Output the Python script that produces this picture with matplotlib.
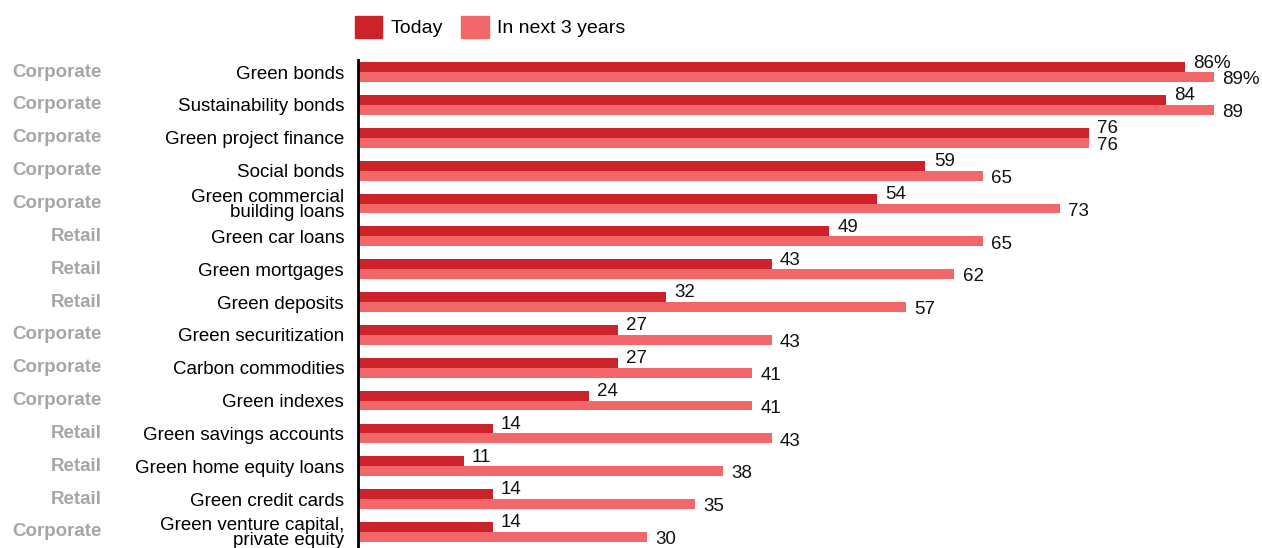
import matplotlib.pyplot as plt
from matplotlib.patches import Patch

plt.rcParams['font.family'] = ['Liberation Sans', 'DejaVu Sans']

### DATA

products = ['Green bonds', 'Sustainability bonds', 'Green project finance', 'Social bonds',
            'Green commercial\nbuilding loans', 'Green car loans', 'Green mortgages',
            'Green deposits', 'Green securitization', 'Carbon commodities', 'Green indexes',
            'Green savings accounts', 'Green home equity loans', 'Green credit cards',
            'Green venture capital,\nprivate equity']
segments = ['Corporate', 'Corporate', 'Corporate', 'Corporate', 'Corporate', 'Retail',
            'Retail', 'Retail', 'Corporate', 'Corporate', 'Corporate', 'Retail', 'Retail',
            'Retail', 'Corporate']
today = [86, 84, 76, 59, 54, 49, 43, 32, 27, 27, 24, 14, 11, 14, 14]
next3 = [89, 89, 76, 65, 73, 65, 62, 57, 43, 41, 41, 43, 38, 35, 30]

c_today = '#cc2229'
c_next = '#f2686a'

### PLOT

fig = plt.figure(figsize=(12.62, 5.48), dpi=100)
ax = fig.add_axes([358 / 1262, 0, 1 - 358 / 1262, 1 - 60 / 548])

h = 0.3
ys = list(range(len(products)))
ax.barh([y - h / 2 for y in ys], today, height=h, color=c_today)
ax.barh([y + h / 2 for y in ys], next3, height=h, color=c_next)

fs = 13.5
for i, (a, b) in enumerate(zip(today, next3)):
    sa = f'{a}%' if i == 0 else str(a)
    sb = f'{b}%' if i == 0 else str(b)
    ax.annotate(sa, (a, i - h / 2), xytext=(6, 3), textcoords='offset points',
                va='center', ha='left', fontsize=fs, color='#111111')
    ax.annotate(sb, (b, i + h / 2), xytext=(6, -2), textcoords='offset points',
                va='center', ha='left', fontsize=fs, color='#111111')

ax.set_xlim(0, 94)
ax.set_ylim(14.49, -0.37)

ax.set_yticks(ys)
ax.set_yticklabels(products, fontsize=fs, linespacing=0.85)
ax.tick_params(axis='y', length=0, pad=10)
ax.set_xticks([])

for s in ['top', 'right', 'bottom']:
    ax.spines[s].set_visible(False)
ax.spines['left'].set_linewidth(2)
ax.spines['left'].set_color('black')

# segment labels on the far left
for i, seg in enumerate(segments):
    ax.text(102 / 1262, ax.transData.transform((0, i))[1] / 548, seg,
            transform=fig.transFigure, ha='right', va='center',
            fontsize=fs, fontweight='bold', color='#a6a6a6')

handles = [Patch(color=c_today, label='Today'), Patch(color=c_next, label='In next 3 years')]
fig.legend(handles=handles, loc='center left', bbox_to_anchor=(341 / 1262, 1 - 27 / 548),
           ncol=2, frameon=False, fontsize=14, handlelength=1.4, handleheight=1.4,
           handletextpad=0.45, columnspacing=0.95, borderpad=0.2)

plt.savefig('out.png', dpi=100)
